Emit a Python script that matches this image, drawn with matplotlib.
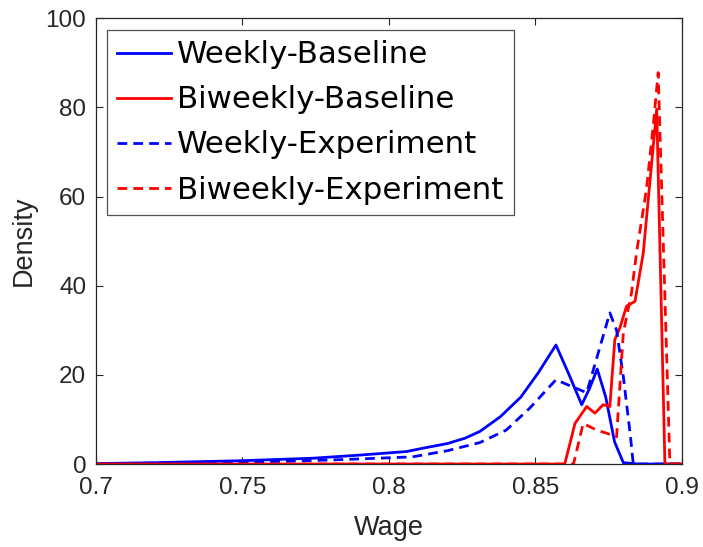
import numpy as np
import matplotlib
matplotlib.use("Agg")
import matplotlib.pyplot as plt

#%% Data
wage_wb = [0.70, 0.72, 0.75, 0.774, 0.79, 0.806, 0.812, 0.82, 0.826, 0.831, 0.838, 0.845,
           0.851, 0.857, 0.8615, 0.8658, 0.8685, 0.8711, 0.874, 0.877, 0.880, 0.885, 0.90]
dens_wb = [0.1, 0.3, 0.75, 1.3, 2.0, 2.8, 3.6, 4.6, 5.8, 7.3, 10.6, 15.0,
           20.5, 26.7, 20.0, 13.3, 17.0, 21.3, 15.0, 5.0, 0.3, 0.0, 0.0]

wage_bb = [0.70, 0.860, 0.8635, 0.8675, 0.8703, 0.8731, 0.8754, 0.8771, 0.8788,
           0.8811, 0.8840, 0.8868, 0.8914, 0.8942, 0.90]
dens_bb = [0.0, 0.0, 9.1, 12.9, 11.4, 13.3, 12.9, 27.9, 30.5,
           35.4, 36.5, 47.3, 79.6, 0.0, 0.0]

wage_we = [0.70, 0.75, 0.78, 0.808, 0.82, 0.831, 0.840, 0.848, 0.857, 0.862, 0.8675,
           0.8754, 0.8777, 0.880, 0.8823, 0.8834, 0.90]
dens_we = [0.05, 0.4, 0.9, 1.6, 3.0, 4.8, 7.6, 12.5, 18.9, 17.5, 16.0,
           33.9, 30.0, 19.6, 7.0, 0.0, 0.0]

wage_be = [0.70, 0.863, 0.8663, 0.8709, 0.8739, 0.8777, 0.8800, 0.8828, 0.8845,
           0.8879, 0.8902, 0.8919, 0.8959, 0.90]
dens_be = [0.0, 0.0, 9.1, 7.6, 7.0, 6.1, 29.4, 38.4, 47.4,
           61.6, 75.8, 87.8, 0.0, 0.0]

#%% Plot
plt.rcParams['font.family'] = ['Liberation Sans', 'DejaVu Sans']
fig = plt.figure(figsize=(7.03, 5.47), dpi=100)
ax = fig.add_axes([0.1366, 0.1517, 0.8334, 0.815])

ax.plot(wage_wb, dens_wb, color='#0000ff', lw=2.0, label='Weekly-Baseline')
ax.plot(wage_bb, dens_bb, color='#ff0000', lw=2.0, label='Biweekly-Baseline')
ax.plot(wage_we, dens_we, color='#0000ff', lw=2.0, ls=(0, (3.5, 2.2)), label='Weekly-Experiment')
ax.plot(wage_be, dens_be, color='#ff0000', lw=2.0, ls=(0, (3.5, 2.2)), label='Biweekly-Experiment')

ax.set_xlim(0.7, 0.9)
ax.set_ylim(0, 100)
ax.set_xticks([0.7, 0.75, 0.8, 0.85, 0.9])
ax.set_xticklabels(['0.7', '0.75', '0.8', '0.85', '0.9'])
ax.set_yticks([0, 20, 40, 60, 80, 100])
ax.tick_params(direction='in', top=True, right=True, length=5, width=0.8,
               labelsize=17.5, colors='#262626', pad=7)
ax.tick_params(axis='x', pad=9)
for s in ax.spines.values():
    s.set_color('#262626')
    s.set_linewidth(0.9)

ax.set_xlabel('Wage', fontsize=19.5, color='#262626', labelpad=12)
ax.set_ylabel('Density', fontsize=19.5, color='#262626', labelpad=6)

leg = ax.legend(loc='upper left', bbox_to_anchor=(0.0188, 0.973),
                prop={'family': 'DejaVu Sans', 'size': 22.2}, frameon=True, fancybox=False,
                edgecolor='#262626', handlelength=1.75, handletextpad=0.2,
                labelspacing=0.52, borderpad=0.33, borderaxespad=0.0)
leg.get_frame().set_linewidth(0.9)

plt.savefig('out.png', dpi=100)
